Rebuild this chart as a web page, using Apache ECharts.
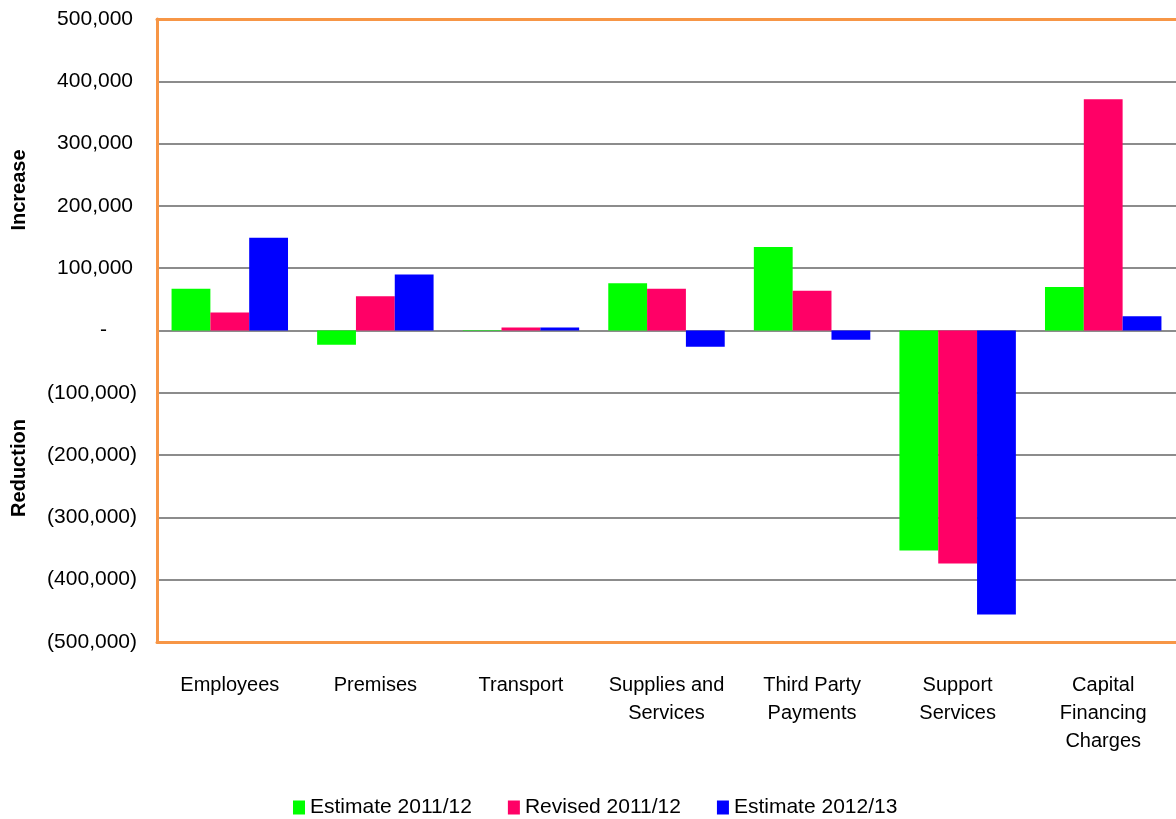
<!DOCTYPE html>
<html>
<head>
<meta charset="utf-8">
<script src="https://cdn.jsdelivr.net/npm/echarts@6/dist/echarts.min.js"></script>
<style>html,body{margin:0;padding:0;background:#fff;}#c{width:1176px;height:819px;}</style>
</head>
<body>
<div id="c"></div>
<script>
const categories = ['Employees', 'Premises', 'Transport', 'Supplies and\nServices', 'Third Party\nPayments', 'Support\nServices', 'Capital\nFinancing\nCharges'];
const seriesNames = ['Estimate 2011/12', 'Revised 2011/12', 'Estimate 2012/13'];
const estimate2011 = [67000, -23000, 1000, 76000, 134000, -353000, 70000];
const revised2011 = [29000, 55000, 5000, 67000, 64000, -374000, 371000];
const estimate2012 = [149000, 90000, 5000, -26000, -15000, -456000, 23000];
const yTicks = { min: -500000, max: 500000, interval: 100000 };

const font = 'Liberation Sans';
const chart = echarts.init(document.getElementById('c'));
function fmt(v) {
  if (v === 0) return '{z|-}';
  const s = Math.abs(v).toLocaleString('en-US');
  return v < 0 ? '{n|(' + s + ')}' : '{p|' + s + '}';
}
const colors = ['#00FF00', '#FF0066', '#0000FF'];
const data = [estimate2011, revised2011, estimate2012];
const orange = { color: '#F79646', width: 3 };
chart.setOption({
  animation: false,
  backgroundColor: '#fff',
  textStyle: { fontFamily: font },
  grid: { left: 157, right: 0, top: 19, bottom: 177, show: false },
  legend: {
    top: 792, left: 288, itemWidth: 12, itemHeight: 14, itemGap: 36, icon: 'rect',
    textStyle: { fontFamily: font, fontSize: 21, color: '#000' },
    data: seriesNames
  },
  xAxis: [{
    type: 'category', data: categories, position: 'bottom',
    axisLine: { show: true, onZero: false, lineStyle: orange }, axisTick: { show: false },
    axisLabel: { fontFamily: font, fontSize: 20, color: '#000', margin: 29, lineHeight: 28, interval: 0 }
  }, {
    type: 'category', data: categories, position: 'top',
    axisLine: { show: true, onZero: false, lineStyle: orange }, axisTick: { show: false },
    axisLabel: { show: false }
  }],
  yAxis: {
    type: 'value', min: yTicks.min, max: yTicks.max, interval: yTicks.interval,
    axisLine: { show: true, lineStyle: orange }, axisTick: { show: false },
    splitLine: { lineStyle: { color: '#8C8C8C', width: 2 } },
    axisLabel: {
      margin: 20, formatter: fmt,
      rich: {
        p: { fontFamily: font, fontSize: 21, color: '#000', padding: [0, 4, 0, 0] },
        n: { fontFamily: font, fontSize: 21, color: '#000' },
        z: { fontFamily: font, fontSize: 21, color: '#000', padding: [0, 30, 0, 0] }
      }
    }
  },
  series: seriesNames.map((n, i) => ({
    name: n, type: 'bar', data: data[i], barGap: '0%', barCategoryGap: '20%',
    itemStyle: { color: colors[i] }
  })),
  graphic: [
    { type: 'text', x: 19, y: 190, rotation: Math.PI / 2, style: { text: 'Increase', font: 'bold 20px "Liberation Sans"', fill: '#000', align: 'center', verticalAlign: 'middle' } },
    { type: 'text', x: 19, y: 468, rotation: Math.PI / 2, style: { text: 'Reduction', font: 'bold 20px "Liberation Sans"', fill: '#000', align: 'center', verticalAlign: 'middle' } }
  ]
});
</script>
</body>
</html>
